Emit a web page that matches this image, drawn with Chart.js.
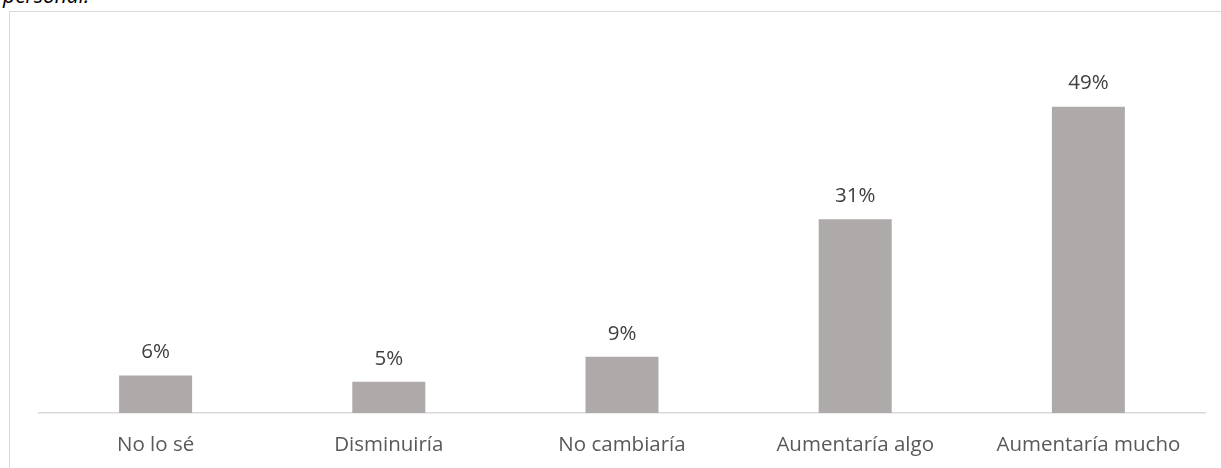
<!DOCTYPE html>
<html><head><meta charset="utf-8">
<script src="https://cdn.jsdelivr.net/npm/chart.js@4/dist/chart.umd.min.js"></script>
<style>
html,body{margin:0;padding:0;background:#fff;overflow:hidden;}
#wrap{position:relative;width:1221px;height:468px;}
#frame{position:absolute;left:9px;top:11px;width:1300px;height:600px;border:1px solid #d9d9d9;box-sizing:border-box;}
#ttl{position:absolute;left:3px;top:-18px;font-family:"Open Sans",sans-serif;font-style:italic;font-size:21px;color:#000;white-space:nowrap;line-height:26px;}
canvas{position:absolute;left:0;top:0;}
</style></head><body>
<div id="wrap">
<div id="ttl">personal:</div>
<div id="frame"></div>
<canvas id="c" width="1221" height="468"></canvas>
</div>
<script>
const categories = ["No lo sé","Disminuiría","No cambiaría","Aumentaría algo","Aumentaría mucho"];
const values = [6,5,9,31,49];
const valueLabels = ["6%","5%","9%","31%","49%"];

const labelPlugin = {
  id:'vlabels',
  afterDatasetsDraw(chart){
    const ctx = chart.ctx;
    const meta = chart.getDatasetMeta(0);
    ctx.save();
    ctx.font = '20.5px "Open Sans", sans-serif';
    ctx.fillStyle = '#404040';
    ctx.textAlign = 'center';
    ctx.textBaseline = 'middle';
    meta.data.forEach((bar,i)=>{
      ctx.fillText(valueLabels[i], bar.x, bar.y - 23);
    });
    ctx.restore();
  }
};

new Chart(document.getElementById('c'), {
  type:'bar',
  data:{labels:categories, datasets:[{data:values, backgroundColor:'#aeaaa9', borderWidth:0, categoryPercentage:1, barPercentage:0.313}]},
  options:{
    responsive:false, animation:false,
    layout:{padding:{left:39,right:16,top:41,bottom:0}},
    plugins:{legend:{display:false}, tooltip:{enabled:false}},
    scales:{
      x:{grid:{display:false}, border:{display:true,color:'#d9d9d9',width:1.5},
         ticks:{color:'#595959', font:{family:'"Open Sans", sans-serif', size:20.5}, padding:12},
         afterFit:(s)=>{s.height=55;}},
      y:{display:false, min:0, max:59.5}
    }
  },
  plugins:[labelPlugin]
});
</script>
</body></html>
